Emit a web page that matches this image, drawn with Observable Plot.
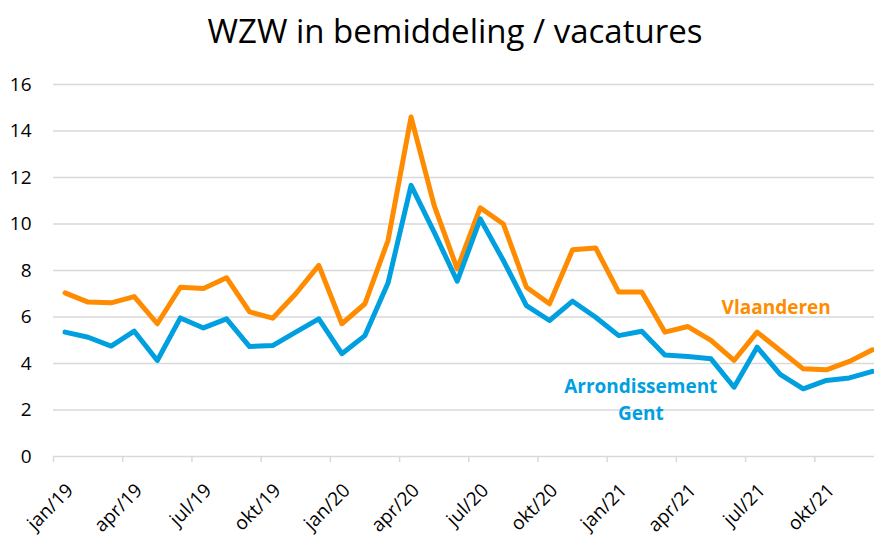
<!DOCTYPE html>
<html><head><meta charset="utf-8">
<script src="https://cdn.jsdelivr.net/npm/d3@7"></script>
<script src="https://cdn.jsdelivr.net/npm/@observablehq/plot@0.6"></script>
<style>
body{margin:0;background:#fff;font-family:"Open Sans", sans-serif;}
#title{height:60px;width:874px;text-align:center;font-size:33px;line-height:36px;padding-top:13px;box-sizing:border-box;color:#000;padding-left:36px;}
</style></head><body>
<div id="title">WZW in bemiddeling / vacatures</div>
<div id="chart"></div>
<script>
const months = ["jan/19","feb/19","mrt/19","apr/19","mei/19","jun/19","jul/19","aug/19","sep/19","okt/19","nov/19","dec/19",
  "jan/20","feb/20","mrt/20","apr/20","mei/20","jun/20","jul/20","aug/20","sep/20","okt/20","nov/20","dec/20",
  "jan/21","feb/21","mrt/21","apr/21","mei/21","jun/21","jul/21","aug/21","sep/21","okt/21","nov/21","dec/21"];
const tickLabels = ["jan/19","apr/19","jul/19","okt/19","jan/20","apr/20","jul/20","okt/20","jan/21","apr/21","jul/21","okt/21"];
const yTicks = [0,2,4,6,8,10,12,14,16];
const vlaanderen = [7.04,6.64,6.61,6.88,5.71,7.28,7.23,7.69,6.22,5.95,7.0,8.22,
  5.71,6.57,9.29,14.6,10.8,8.07,10.7,10.0,7.28,6.57,8.89,8.97,
  7.07,7.07,5.35,5.59,4.99,4.13,5.35,4.56,3.77,3.73,4.09,4.59];
const gent = [5.35,5.13,4.75,5.39,4.13,5.96,5.53,5.92,4.73,4.77,5.35,5.92,
  4.42,5.2,7.46,11.66,9.65,7.54,10.22,8.43,6.49,5.85,6.68,5.99,
  5.2,5.39,4.37,4.3,4.2,2.98,4.7,3.53,2.91,3.27,3.38,3.66];
const seriesNames = ["Vlaanderen","Arrondissement\nGent"];
const colors = ["#FF8C00","#00A0E0"];

const rows = months.flatMap((m,i)=>[
  {i, month:m, series:seriesNames[0], value:vlaanderen[i]},
  {i, month:m, series:seriesNames[1], value:gent[i]}
]);
const labelPos = tickLabels.map(l=>months.indexOf(l));
const tickPos = labelPos.map(p=>p-0.5);
const fontFam = '"Open Sans", sans-serif';

const chart = Plot.plot({
  width: 874,
  height: 476,
  marginTop: 24,
  marginBottom: 80,
  marginLeft: 53,
  marginRight: 0,
  style: {fontFamily: fontFam, background: "#fff", overflow: "visible"},
  x: {domain: [-0.5, months.length-0.5], range: [53, 883.5]},
  y: {domain: [0,16]},
  color: {domain: seriesNames, range: colors},
  marks: [
    Plot.ruleY(yTicks, {stroke:"#d9d9d9", strokeWidth:1.5}),
    Plot.axisY({ticks: yTicks, tickSize: 0, tickPadding: 22, fontSize: 19, fill:"#000", label: null}),
    Plot.axisX({ticks: tickPos, tickSize: 6, tickFormat: ()=> "", stroke:"#d9d9d9", strokeWidth:1.5, label:null}),
    Plot.axisX({ticks: labelPos, tickSize: 0, tickFormat: d=>months[d], tickRotate: -45, textAnchor:"end", fontSize: 19, fill:"#000", dx: 5, dy: 19, label:null}),
    Plot.lineY(rows, {x:"i", y:"value", stroke:"series", strokeWidth:5, strokeLinejoin:"round", strokeLinecap:"round"}),
    Plot.text([{i:31, value: vlaanderen[31], s: seriesNames[0]}], {x:"i", y:"value", text:"s", dx:-4, dy:-43, fill: colors[0], fontSize:19, fontWeight:"bold"}),
    Plot.text([{i:25, value: gent[25], s: seriesNames[1]}], {x:"i", y:"value", text:"s", dx:-1, dy:67, fill: colors[1], fontSize:19, fontWeight:"bold", lineHeight: 1.42})
  ]
});
document.getElementById("chart").appendChild(chart);
</script>
</body></html>
